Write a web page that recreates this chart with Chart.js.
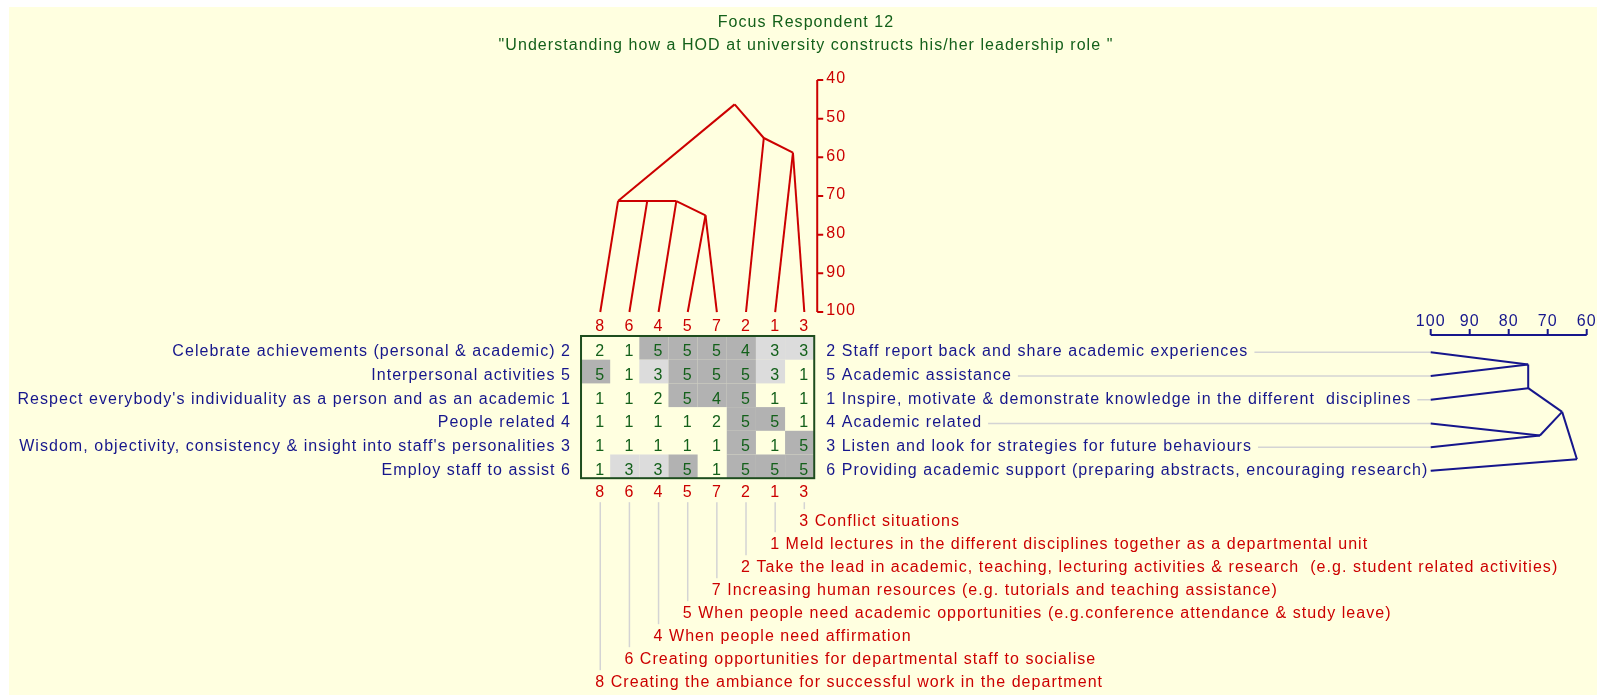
<!DOCTYPE html>
<html lang="en">
<head>
<meta charset="UTF-8">
<title>Focus Respondent 12</title>
<script src="https://cdn.jsdelivr.net/npm/chart.js"></script>
<style>
  body { margin: 0; background: #fff; }
  canvas { display: block; }
</style>
</head>
<body>
<canvas id="grid" width="1597" height="695"></canvas>
<script>
// ---- data ----
const titleLines = ['Focus Respondent 12', '"Understanding how a HOD at university constructs his/her leadership role "'];

// elements (columns) in the order shown
const elementNums = [8, 6, 4, 5, 7, 2, 1, 3];
const elementNames = [
  'Creating the ambiance for successful work in the department',
  'Creating opportunities for departmental staff to socialise',
  'When people need affirmation',
  'When people need academic opportunities (e.g.conference attendance & study leave)',
  'Increasing human resources (e.g. tutorials and teaching assistance)',
  'Take the lead in academic, teaching, lecturing activities & research  (e.g. student related activities)',
  'Meld lectures in the different disciplines together as a departmental unit',
  'Conflict situations'
];

// constructs (rows) in the order shown
const constructNums = [2, 5, 1, 4, 3, 6];
const leftPoles = [
  'Celebrate achievements (personal & academic)',
  'Interpersonal activities',
  "Respect everybody's individuality as a person and as an academic",
  'People related',
  "Wisdom, objectivity, consistency & insight into staff's personalities",
  'Employ staff to assist'
];
const rightPoles = [
  'Staff report back and share academic experiences',
  'Academic assistance',
  'Inspire, motivate & demonstrate knowledge in the different  disciplines',
  'Academic related',
  'Listen and look for strategies for future behaviours',
  'Providing academic support (preparing abstracts, encouraging research)'
];

const ratings = [
  [2, 1, 5, 5, 5, 4, 3, 3],
  [5, 1, 3, 5, 5, 5, 3, 1],
  [1, 1, 2, 5, 4, 5, 1, 1],
  [1, 1, 1, 1, 2, 5, 5, 1],
  [1, 1, 1, 1, 1, 5, 1, 5],
  [1, 3, 3, 5, 1, 5, 5, 5]
];

const elementTicks = [40, 50, 60, 70, 80, 90, 100];
const constructTicks = [100, 90, 80, 70, 60];

// cluster joins: id -> [gap after column/row, similarity level]
const elementJoins = {
  a0: [0, 71.3], a1: [1, 71.3], a2: [2, 71.3],
  n57: [3, 75], n13: [6, 58.8], n213: [5, 55], top: [4, 46.3]
};
const elementLinks = [
  ['L0', 'a0'], ['L1', 'a1'], ['L2', 'a2'], ['a0', 'a2'],
  ['L3', 'n57'], ['L4', 'n57'], ['n57', 'a2'], ['a0', 'top'],
  ['L6', 'n13'], ['L7', 'n13'], ['L5', 'n213'], ['n13', 'n213'], ['n213', 'top']
];
const constructJoins = {
  b0: [0, 75], b1: [1, 75], c43: [3, 72], c: [2, 66.3], top: [4, 62.5]
};
const constructLinks = [
  ['L0', 'b0'], ['L1', 'b0'], ['b0', 'b1'], ['L2', 'b1'],
  ['L3', 'c43'], ['L4', 'c43'], ['b1', 'c'], ['c43', 'c'],
  ['c', 'top'], ['L5', 'top']
];

// ---- styling ----
const RED = '#cc0000';
const NAVY = '#16168c';
const GREEN = '#13601a';
const FONT = '16px "Liberation Sans", Arial, sans-serif';
const LEAF_COL = 0.16, NODE_COL = 0.77;
const LEAF_ROW = 0.19, NODE_ROW = 0.7;

function treePoint(id, joins, leafOff, nodeOff) {
  if (id[0] === 'L') return { pos: +id.slice(1) + leafOff, level: 100 };
  const [slot, level] = joins[id];
  return { pos: slot + nodeOff, level: level };
}

const datasets = [];
elementLinks.forEach(([a, b]) => {
  const p = treePoint(a, elementJoins, LEAF_COL, NODE_COL);
  const q = treePoint(b, elementJoins, LEAF_COL, NODE_COL);
  datasets.push({
    data: [{ x: p.pos, y: p.level }, { x: q.pos, y: q.level }],
    xAxisID: 'x', yAxisID: 'y',
    showLine: true, borderColor: RED, borderWidth: 2, pointRadius: 0
  });
});
constructLinks.forEach(([a, b]) => {
  const p = treePoint(a, constructJoins, LEAF_ROW, NODE_ROW);
  const q = treePoint(b, constructJoins, LEAF_ROW, NODE_ROW);
  datasets.push({
    data: [{ x: p.level, y: p.pos }, { x: q.level, y: q.pos }],
    xAxisID: 'sim', yAxisID: 'row',
    showLine: true, borderColor: NAVY, borderWidth: 2, pointRadius: 0
  });
});

function text(ctx, str, x, y, align, color) {
  ctx.fillStyle = color;
  ctx.textAlign = align;
  ctx.fillText(str, x, y);
}

const gridPlugin = {
  id: 'repgrid',
  beforeDraw(chart) {
    const ctx = chart.ctx;
    ctx.save();
    ctx.fillStyle = '#ffffff';
    ctx.fillRect(0, 0, chart.width, chart.height);
    ctx.fillStyle = '#ffffe0';
    ctx.fillRect(9, 7, chart.width - 9, chart.height - 7);
    ctx.restore();
  },
  beforeDatasetsDraw(chart) {
    const ctx = chart.ctx;
    const xs = chart.scales.x, ys = chart.scales.y, rs = chart.scales.row, ss = chart.scales.sim;
    ctx.save();
    ctx.font = FONT;
    if ('letterSpacing' in ctx) ctx.letterSpacing = '1.05px';
    ctx.textBaseline = 'middle';

    const gl = xs.getPixelForValue(-0.5), gr = xs.getPixelForValue(elementNums.length - 0.5);
    const gt = rs.getPixelForValue(-0.5), gb = rs.getPixelForValue(constructNums.length - 0.5);

    // title
    text(ctx, titleLines[0], 806, 23, 'center', GREEN);
    text(ctx, titleLines[1], 806, 46, 'center', GREEN);

    // cells
    ratings.forEach((row, j) => {
      row.forEach((v, i) => {
        const x0 = xs.getPixelForValue(i - 0.5), x1 = xs.getPixelForValue(i + 0.5);
        const y0 = rs.getPixelForValue(j - 0.5), y1 = rs.getPixelForValue(j + 0.5);
        if (v >= 4 || v === 3) {
          ctx.fillStyle = v >= 4 ? '#b2b2b2' : '#dcdcdc';
          ctx.fillRect(x0, y0, x1 - x0, y1 - y0);
        }
        text(ctx, String(v), xs.getPixelForValue(i + LEAF_COL), rs.getPixelForValue(j + 0.17), 'center', GREEN);
      });
    });
    ctx.strokeStyle = '#1e4d1e';
    ctx.lineWidth = 2;
    ctx.strokeRect(gl, gt, gr - gl, gb - gt);

    // construct labels + connectors to right tree
    ctx.lineWidth = 1.5;
    ctx.strokeStyle = '#d4d4d4';
    constructNums.forEach((n, j) => {
      const y = rs.getPixelForValue(j + 0.17);
      const yl = rs.getPixelForValue(j + LEAF_ROW);
      text(ctx, leftPoles[j] + ' ' + n, gl - 10, y, 'right', NAVY);
      const s = n + ' ' + rightPoles[j];
      text(ctx, s, gr + 12, y, 'left', NAVY);
      const end = gr + 12 + ctx.measureText(s).width + 6;
      ctx.beginPath();
      ctx.moveTo(end, yl);
      ctx.lineTo(ss.getPixelForValue(100), yl);
      ctx.stroke();
    });

    // element labels: top, bottom and the list below
    const n = elementNums.length;
    elementNums.forEach((num, i) => {
      const x = xs.getPixelForValue(i + LEAF_COL);
      text(ctx, String(num), x, gt - 9, 'center', RED);
      text(ctx, String(num), x, gb + 14, 'center', RED);
      const y = gb + 43 + 23 * (n - 1 - i);
      ctx.beginPath();
      ctx.moveTo(x, gb + 24);
      ctx.lineTo(x, y - 12);
      ctx.stroke();
      text(ctx, num + ' ' + elementNames[i], x - 5, y, 'left', RED);
    });

    // element similarity axis
    const ax = gr + 3;
    ctx.strokeStyle = RED;
    ctx.lineWidth = 2;
    ctx.beginPath();
    ctx.moveTo(ax, ys.getPixelForValue(elementTicks[0]));
    ctx.lineTo(ax, ys.getPixelForValue(elementTicks[elementTicks.length - 1]));
    elementTicks.forEach(t => {
      const y = ys.getPixelForValue(t);
      ctx.moveTo(ax, y);
      ctx.lineTo(ax + 6, y);
    });
    ctx.stroke();
    elementTicks.forEach(t => text(ctx, String(t), ax + 9, ys.getPixelForValue(t) - 1, 'left', RED));

    // construct similarity axis
    const ay = gt - 1;
    ctx.strokeStyle = NAVY;
    ctx.beginPath();
    ctx.moveTo(ss.getPixelForValue(constructTicks[0]), ay);
    ctx.lineTo(ss.getPixelForValue(constructTicks[constructTicks.length - 1]), ay);
    constructTicks.forEach(t => {
      const x = ss.getPixelForValue(t);
      ctx.moveTo(x, ay);
      ctx.lineTo(x, ay - 6);
    });
    ctx.stroke();
    constructTicks.forEach(t => text(ctx, String(t), ss.getPixelForValue(t), ay - 13, 'center', NAVY));

    ctx.restore();
  }
};

new Chart(document.getElementById('grid'), {
  type: 'scatter',
  data: { datasets: datasets },
  options: {
    responsive: false,
    animation: false,
    layout: { padding: 0 },
    plugins: { legend: { display: false }, tooltip: { enabled: false } },
    scales: {
      x: { type: 'linear', display: false, min: -20.432, max: 34.353 },
      y: { type: 'linear', display: false, reverse: true, min: 19.31, max: 199.04 },
      row: { type: 'linear', axis: 'y', display: false, reverse: true, min: -14.677, max: 14.648 },
      sim: { type: 'linear', axis: 'x', display: false, reverse: true, min: 57.36, max: 466.85 }
    }
  },
  plugins: [gridPlugin]
});
</script>
</body>
</html>
